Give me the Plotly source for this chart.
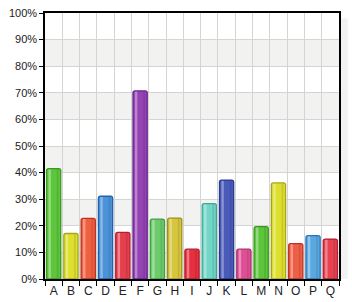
import plotly.graph_objects as go

categories = list("ABCDEFGHIJKLMNOPQ")
values = [41.5, 17.1, 22.8, 31.1, 17.5, 70.7, 22.5, 22.9, 11.2, 28.3, 37.2, 11.2, 19.7, 36.1, 13.3, 16.3, 15.0]
fill_colors = ["#5ec63c", "#dede2e", "#ee6040", "#4c92d8", "#e6404e", "#9444b2", "#6ccc6c", "#d6c63e",
               "#e63040", "#72d6c6", "#4a5ab8", "#de5096", "#5cc63a", "#dede2e", "#ee6046", "#5aa8e0", "#e64250"]
line_colors = ["#3a9820", "#a6a616", "#be3020", "#2062b0", "#b42032", "#682090", "#3ea040", "#a08e1e",
               "#b01e2e", "#3ea898", "#283a92", "#ae2e6c", "#3a9820", "#a6a616", "#be3224", "#2a72b8", "#b42032"]
highlight_colors = ["rgba(255,255,255,0.35)"] * len(categories)
y_ticks = list(range(0, 101, 10))
y_labels = [f"{t}%" for t in y_ticks]

fig = go.Figure()

# background bands
for lo in range(0, 100, 20):
    fig.add_shape(type="rect", xref="paper", yref="y", x0=0, x1=1, y0=lo, y1=lo + 10,
                  fillcolor="#f2f2f0", line_width=0, layer="below")

# shadow on right side
fig.add_shape(type="rect", xref="paper", yref="paper", x0=1.003, x1=1.03, y0=-0.0, y1=0.98,
              fillcolor="rgba(0,0,0,0.05)", line_width=0, layer="below")

W = 0.82
fig.add_trace(go.Bar(x=categories, y=values, width=W, offset=-W / 2,
                     marker=dict(color=fill_colors, line=dict(width=0)), hoverinfo="skip"))
fig.add_trace(go.Bar(x=categories, y=values, width=0.14, offset=-0.3,
                     marker=dict(color=highlight_colors, line=dict(width=0)), hoverinfo="skip"))
fig.add_trace(go.Bar(x=categories, y=values, width=0.1, offset=0.18,
                     marker=dict(color="rgba(0,0,0,0.10)", line=dict(width=0)), hoverinfo="skip"))
fig.add_trace(go.Bar(x=categories, y=values, width=W, offset=-W / 2,
                     marker=dict(color="rgba(0,0,0,0)", line=dict(color=line_colors, width=1.3)),
                     hoverinfo="skip"))

fig.update_layout(
    width=352, height=302,
    margin=dict(l=45, r=13, t=13, b=23),
    paper_bgcolor="white", plot_bgcolor="white",
    barmode="overlay", showlegend=False, barcornerradius=2,
    font=dict(family="Liberation Sans, Arial, sans-serif", size=11, color="#222"),
)
fig.update_xaxes(type="category", tickson="boundaries", ticks="outside", ticklen=5, tickcolor="black",
                 tickangle=0, automargin=False,
                 showgrid=True, gridcolor="#d4d4d4", gridwidth=1,
                 showline=True, linecolor="black", linewidth=1.5, mirror=True,
                 tickfont=dict(size=12, color="#222"), range=[-0.5, len(categories) - 0.5])
fig.update_yaxes(range=[0, 100], tickvals=y_ticks, ticktext=y_labels, ticks="outside", ticklen=4,
                 tickcolor="black", showgrid=True, gridcolor="#d4d4d4", gridwidth=1, automargin=False,
                 showline=True, linecolor="black", linewidth=1.5, mirror=True, zeroline=False,
                 tickfont=dict(size=11, color="#222"))

fig.write_html("out.html")
